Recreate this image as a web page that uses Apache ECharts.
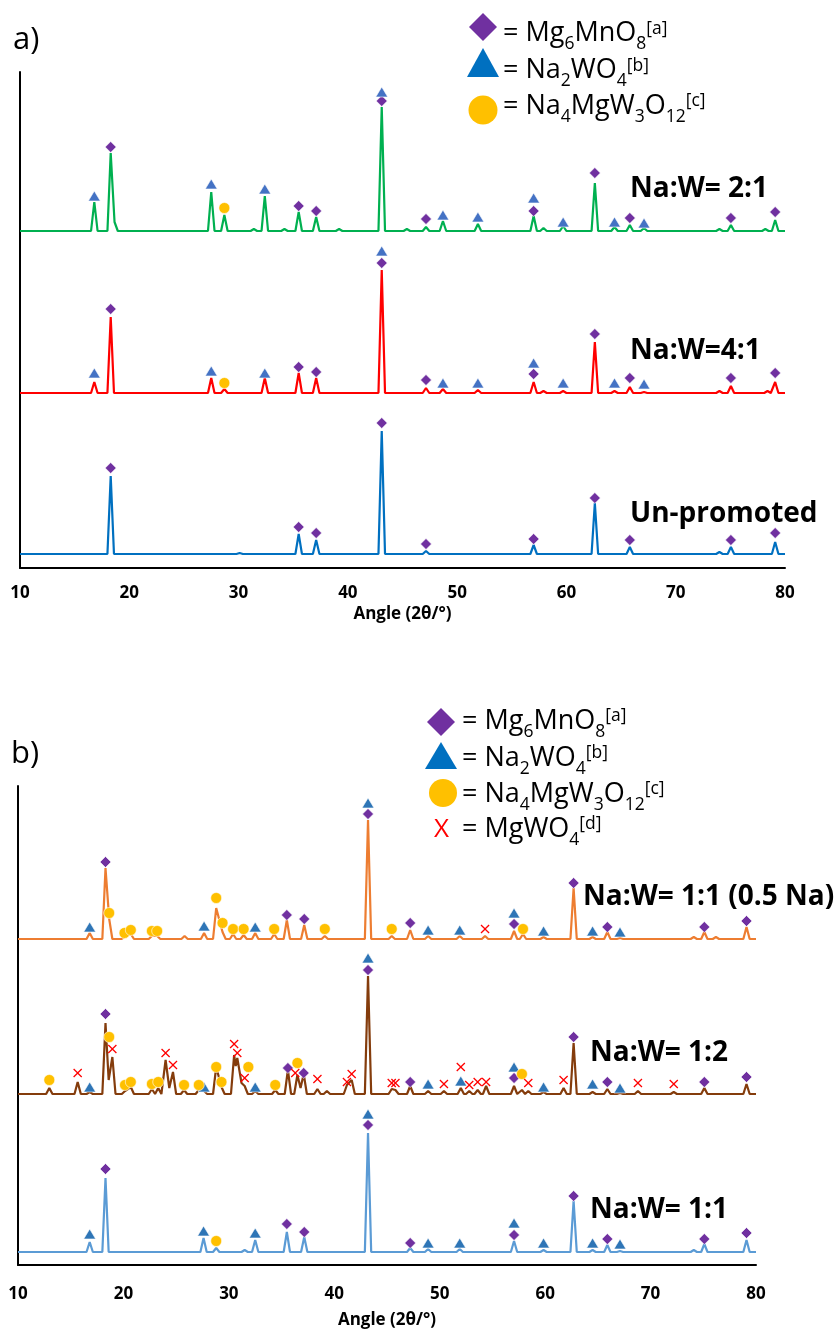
<!DOCTYPE html>
<html>
<head>
<meta charset="utf-8">
<script src="https://cdn.jsdelivr.net/npm/echarts@6/dist/echarts.min.js"></script>
<style>
  html, body { margin: 0; padding: 0; background: #fff; }
  #chart { width: 836px; height: 1332px; }
</style>
</head>
<body>
<div id="chart"></div>
<script>
// ---- XRD patterns: peak lists as [2θ (°), intensity above the pattern's own baseline] ----
const angleTicks = [10, 20, 30, 40, 50, 60, 70, 80];

// Panel a
const peaksNaW21 = [[16.8,29],[18.3,78],[18.65,9],[27.5,39],[28.7,16],[31.4,2],[32.4,35],[34.2,2],[35.5,19],[37.1,14],[39.2,2],[43.1,124],[45.4,2],[47.15,4],[48.7,10],[51.9,7],[57.0,15],[57.9,3],[59.7,5],[62.6,48],[64.4,4],[65.8,6],[67.1,3],[74.0,2],[75.05,6],[78.2,2],[79.1,11]];
const peaksNaW41 = [[16.8,11],[18.3,76],[27.5,15],[28.7,4],[32.4,15],[35.5,20],[37.1,15],[43.1,123],[47.15,5],[48.7,4],[51.9,3],[57.0,11],[57.9,2],[59.7,2],[62.6,51],[64.4,2],[65.8,6],[67.1,1],[74.0,2],[75.05,7],[78.4,2],[79.1,11]];
const peaksUnpromoted = [[18.3,78],[30.1,1],[35.5,20],[37.1,14],[43.1,123],[47.15,3],[57.0,9],[62.6,51],[65.8,7],[74.0,2],[75.05,7],[79.1,12]];

// Panel b
const peaksNaW11half = [[16.8,6],[18.3,71],[18.65,20],[20.1,2],[20.7,5],[22.7,3],[23.2,3],[25.8,3],[27.65,6],[28.8,31],[29.4,7],[30.4,5],[31.4,4],[32.5,6],[34.3,5],[35.5,19],[37.15,14],[39.1,3],[43.2,119],[45.45,3],[47.2,9],[48.9,3],[51.9,3],[54.3,3],[57.05,8],[57.9,5],[59.85,2],[62.7,51],[64.5,2],[65.9,7],[67.1,1],[74.1,2],[75.1,7],[76.2,2],[79.1,12]];
const peaksNaW12 = [[12.97,6],[15.66,12],[16.8,2],[18.3,71],[18.6,14],[18.95,37],[20.15,3],[20.7,7],[22.7,5],[23.3,6],[24.0,34],[24.35,6],[24.7,22],[25.75,4],[27.15,4],[27.65,3],[28.8,27],[29.3,7],[30.5,39],[30.65,28],[30.8,36],[31.2,11],[31.5,8],[32.5,3],[34.4,4],[35.6,24],[36.5,19],[36.8,6],[37.1,20],[38.4,5],[39.3,3],[41.2,9],[41.65,14],[43.2,118],[45.45,5],[45.8,4],[47.2,8],[48.9,3],[50.4,3],[52.0,6],[52.8,3],[53.6,4],[54.4,8],[57.05,8],[57.8,4],[58.4,3],[59.85,2],[61.75,6],[62.7,51],[64.5,2],[65.9,5],[67.1,1],[68.8,3],[72.2,2],[75.1,6],[79.1,10]];
const peaksNaW11 = [[16.8,10],[18.3,74],[27.6,14],[28.8,4],[31.5,2],[32.5,12],[35.5,20],[37.15,15],[43.2,119],[47.2,4],[48.9,3],[51.9,3],[57.05,11],[59.85,2],[62.7,51],[64.5,2],[65.9,7],[67.1,1],[74.1,2],[75.1,8],[79.1,12]];

// Vertical offsets used to stack the patterns (intensity units)
const offsetsA = { naw21: 337, naw41: 175, unpromoted: 14 };
const offsetsB = { naw11half: 326, naw12: 171, naw11: 13 };

// ---- Phase markers: [2θ, height above the pattern's baseline] ----
// Mg6MnO8 (diamond), Na2WO4 (triangle), Na4MgW3O12 (circle), MgWO4 (cross)
const mgmnoNaW21 = [[18.3,84],[35.5,25],[37.1,20],[43.1,130],[47.15,12],[57.0,20],[62.6,58],[65.8,13],[75.05,13],[79.1,19]];
const nawoNaW21 = [[16.8,35],[27.5,47],[32.4,42],[43.1,139],[48.7,16],[51.9,14],[57.0,33],[59.7,9],[64.4,9],[67.1,8]];
const namgwoNaW21 = [[28.7,23]];

const mgmnoNaW41 = [[18.3,84],[35.5,26],[37.1,21],[43.1,130],[47.15,13],[57.0,19],[62.6,59],[65.8,15],[75.05,15],[79.1,20]];
const nawoNaW41 = [[16.8,20],[27.5,22],[32.4,20],[43.1,142],[48.7,10],[51.9,10],[57.0,30],[59.7,10],[64.4,10],[67.1,9]];
const namgwoNaW41 = [[28.7,10]];

const mgmnoUnpromoted = [[18.3,86],[35.5,27],[37.1,21],[43.1,131],[47.15,10],[57.0,15],[62.6,56],[65.8,14],[75.05,14],[79.1,21]];

const mgmnoNaW11half = [[18.3,77],[35.5,24],[37.15,20],[43.2,125],[47.2,16],[57.05,15],[62.7,56],[65.9,12],[75.1,12],[79.1,18]];
const nawoNaW11half = [[16.8,12],[27.65,13],[32.5,12],[43.2,136],[48.9,9],[51.9,9],[57.05,26],[59.85,8],[64.5,8],[67.1,7]];
const namgwoNaW11half = [[18.65,26],[20.1,6],[20.7,9],[22.7,8],[23.2,8],[28.8,41],[29.4,16],[30.4,10],[31.4,10],[34.3,10],[39.1,10],[45.45,10],[57.9,10]];
const mgwoNaW11half = [[54.3,10]];

const mgmnoNaW12 = [[18.3,80],[35.6,26],[37.1,21],[43.2,124],[47.2,12],[57.05,16],[62.7,57],[65.9,12],[75.1,12],[79.1,17]];
const nawoNaW12 = [[16.8,7],[27.65,7],[32.5,7],[43.2,136],[48.9,10],[52.0,13],[57.05,27],[59.85,7],[64.5,10],[67.1,6]];
const namgwoNaW12 = [[12.97,14],[18.65,57],[20.15,9],[20.7,12],[22.7,10],[23.3,12],[25.75,9],[27.15,9],[28.8,27],[29.3,12],[31.85,27],[34.4,9],[36.5,31],[57.8,20]];
const mgwoNaW12 = [[15.66,21],[18.95,45],[24.0,41],[24.7,29],[30.5,50],[30.8,41],[31.5,16],[36.3,21],[38.4,15],[41.2,12],[41.65,20],[45.45,11],[45.8,11],[50.4,10],[52.0,27],[52.8,9],[53.6,12],[54.4,12],[58.4,11],[61.75,14],[68.8,11],[72.2,10]];

const mgmnoNaW11 = [[18.3,83],[35.5,28],[37.15,20],[43.2,127],[47.2,9],[57.05,17],[62.7,56],[65.9,13],[75.1,13],[79.1,19]];
const nawoNaW11 = [[16.8,18],[27.6,21],[32.5,19],[43.2,138],[48.9,9],[51.9,9],[57.05,29],[59.85,9],[64.5,9],[67.1,8]];
const namgwoNaW11 = [[28.8,11]];

// ---- helpers ----
const HALF_BASE = 0.3;   // half width of a peak foot, in degrees 2θ
function trace(peaks, base) {
  const pts = [[10, base]];
  let prev = null;
  peaks.forEach(([a, h]) => {
    if (prev === null || a - prev > 2 * HALF_BASE) {
      if (prev !== null) pts.push([prev + HALF_BASE, base]);
      pts.push([a - HALF_BASE, base]);
    }
    pts.push([a, base + h]);
    prev = a;
  });
  pts.push([prev + HALF_BASE, base], [80, base]);
  return pts;
}
const lift = (marks, base) => marks.map(([a, h]) => [a, base + h]);

const FAMILY = '"Open Sans", Lato, sans-serif';
const C = {
  diamond: '#7030A0', triA: '#4472C4', triB: '#2E75B6', triLegend: '#0070C0',
  circle: '#FFC000', cross: '#FF0000'
};
const CROSS = 'path://M0,1L1,0L5,4L9,0L10,1L6,5L10,9L9,10L5,6L1,10L0,9L4,5Z';

function lineSeries(name, idx, data, color) {
  return {
    name, type: 'line', xAxisIndex: idx, yAxisIndex: idx, data,
    symbol: 'none', smooth: false, z: 2,
    lineStyle: { color, width: 2.2 }, silent: true
  };
}
function markSeries(idx, data, symbol, size, color) {
  return {
    type: 'scatter', xAxisIndex: idx, yAxisIndex: idx, data,
    symbol, symbolSize: size, z: 5, silent: true,
    itemStyle: { color, borderColor: '#ffffff', borderWidth: symbol === CROSS ? 0 : 0.6, opacity: 1 }
  };
}

const series = [
  lineSeries('Na:W= 2:1', 0, trace(peaksNaW21, offsetsA.naw21), '#00B050'),
  lineSeries('Na:W=4:1', 0, trace(peaksNaW41, offsetsA.naw41), '#FF0000'),
  lineSeries('Un-promoted', 0, trace(peaksUnpromoted, offsetsA.unpromoted), '#0070C0'),
  lineSeries('Na:W= 1:1 (0.5 Na)', 1, trace(peaksNaW11half, offsetsB.naw11half), '#ED7D31'),
  lineSeries('Na:W= 1:2', 1, trace(peaksNaW12, offsetsB.naw12), '#843C0C'),
  lineSeries('Na:W= 1:1', 1, trace(peaksNaW11, offsetsB.naw11), '#5B9BD5'),

  markSeries(0, lift(mgmnoNaW21, offsetsA.naw21), 'diamond', [11, 11], C.diamond),
  markSeries(0, lift(nawoNaW21, offsetsA.naw21), 'triangle', [12, 10], C.triA),
  markSeries(0, lift(namgwoNaW21, offsetsA.naw21), 'circle', 11, C.circle),
  markSeries(0, lift(mgmnoNaW41, offsetsA.naw41), 'diamond', [11, 11], C.diamond),
  markSeries(0, lift(nawoNaW41, offsetsA.naw41), 'triangle', [12, 10], C.triA),
  markSeries(0, lift(namgwoNaW41, offsetsA.naw41), 'circle', 11, C.circle),
  markSeries(0, lift(mgmnoUnpromoted, offsetsA.unpromoted), 'diamond', [11, 11], C.diamond),

  markSeries(1, lift(mgmnoNaW11half, offsetsB.naw11half), 'diamond', [11, 11], C.diamond),
  markSeries(1, lift(nawoNaW11half, offsetsB.naw11half), 'triangle', [12, 10], C.triB),
  markSeries(1, lift(namgwoNaW11half, offsetsB.naw11half), 'circle', 11, C.circle),
  markSeries(1, lift(mgwoNaW11half, offsetsB.naw11half), CROSS, 9, C.cross),
  markSeries(1, lift(mgmnoNaW12, offsetsB.naw12), 'diamond', [11, 11], C.diamond),
  markSeries(1, lift(nawoNaW12, offsetsB.naw12), 'triangle', [12, 10], C.triB),
  markSeries(1, lift(namgwoNaW12, offsetsB.naw12), 'circle', 11, C.circle),
  markSeries(1, lift(mgwoNaW12, offsetsB.naw12), CROSS, 9, C.cross),
  markSeries(1, lift(mgmnoNaW11, offsetsB.naw11), 'diamond', [11, 11], C.diamond),
  markSeries(1, lift(nawoNaW11, offsetsB.naw11), 'triangle', [12, 10], C.triB),
  markSeries(1, lift(namgwoNaW11, offsetsB.naw11), 'circle', 11, C.circle)
];

function xAxis(idx, margin, nameGap) {
  return {
    type: 'value', gridIndex: idx, min: angleTicks[0], max: angleTicks[angleTicks.length - 1], interval: 10,
    name: 'Angle (2θ/°)', nameLocation: 'middle', nameGap,
    nameTextStyle: { fontFamily: FAMILY, fontWeight: 'bold', fontSize: 17, color: '#000' },
    axisLine: { show: true, lineStyle: { color: '#000', width: 2 } },
    axisTick: { show: false }, splitLine: { show: false },
    axisLabel: { fontFamily: FAMILY, fontWeight: 'bold', fontSize: 17, color: '#000', margin,
      formatter: v => angleTicks.includes(v) ? String(v) : '' }
  };
}
function yAxis(idx, max) {
  return {
    type: 'value', gridIndex: idx, min: 0, max,
    axisLine: { show: true, lineStyle: { color: '#000', width: 2 } },
    axisTick: { show: false }, axisLabel: { show: false }, splitLine: { show: false }
  };
}

// ---- legend text: chemical formulae laid out piece by piece ----
const measureCtx = document.createElement('canvas').getContext('2d');
const PIECE = {
  m:   { size: 27,   dy: 0,    fill: '#000' },
  sub: { size: 17.5, dy: 11,   fill: '#000' },
  sup: { size: 17.5, dy: -4.5, fill: '#000' },
  x:   { size: 26,   dy: 0,    fill: '#FF0000' }
};
function formula(x, y, pieces) {
  const els = [];
  let cx = x;
  pieces.forEach(([text, kind]) => {
    const p = PIECE[kind];
    measureCtx.font = `normal ${p.size}px ${FAMILY}`;
    els.push({ type: 'text', x: cx, y: y + p.dy, silent: true,
      style: { text, fontFamily: FAMILY, fontSize: p.size, fill: p.fill,
        textVerticalAlign: 'middle', verticalAlign: 'middle', textAlign: 'left', align: 'left' } });
    cx += measureCtx.measureText(text).width;
  });
  return els;
}
const F_MGMNO = [['= Mg', 'm'], ['6', 'sub'], ['MnO', 'm'], ['8', 'sub'], ['[a]', 'sup']];
const F_NAWO = [['= Na', 'm'], ['2', 'sub'], ['WO', 'm'], ['4', 'sub'], ['[b]', 'sup']];
const F_NAMGWO = [['= Na', 'm'], ['4', 'sub'], ['MgW', 'm'], ['3', 'sub'], ['O', 'm'], ['12', 'sub'], ['[c]', 'sup']];
const F_MGWO = [['= MgWO', 'm'], ['4', 'sub'], ['[d]', 'sup']];

function diamondShape(cx, cy, r, color) {
  return { type: 'polygon', silent: true, shape: { points: [[cx, cy - r], [cx + r, cy], [cx, cy + r], [cx - r, cy]] }, style: { fill: color } };
}
function triangleShape(cx, top, w, h, color) {
  return { type: 'polygon', silent: true, shape: { points: [[cx, top], [cx + w / 2, top + h], [cx - w / 2, top + h]] }, style: { fill: color } };
}
function circleShape(cx, cy, r, color) {
  return { type: 'circle', silent: true, shape: { cx, cy, r }, style: { fill: color } };
}
function sampleLabel(x, y, text) {
  return { type: 'text', x, y, silent: true,
    style: { text, fontFamily: FAMILY, fontWeight: 'bold', fontSize: 28, fill: '#000',
      textVerticalAlign: 'middle', verticalAlign: 'middle' } };
}
function panelTag(x, y, text) {
  return { type: 'text', x, y, silent: true,
    style: { text, fontFamily: FAMILY, fontSize: 31, fill: '#000', textVerticalAlign: 'middle', verticalAlign: 'middle' } };
}

const graphic = [
  panelTag(13, 40, 'a)'),
  panelTag(11, 754, 'b)'),

  diamondShape(483, 27, 14, C.diamond),
  triangleShape(483, 48, 32, 29, C.triLegend),
  circleShape(483, 110, 14.5, C.circle),
  ...formula(503, 33.5, F_MGMNO),
  ...formula(503, 70.5, F_NAWO),
  ...formula(503, 106, F_NAMGWO),

  diamondShape(441, 722, 14, C.diamond),
  triangleShape(441, 742, 32, 27, C.triLegend),
  circleShape(443, 793, 14, C.circle),
  ...formula(434, 830, [['X', 'x']]),
  ...formula(462, 721, F_MGMNO),
  ...formula(462, 758, F_NAWO),
  ...formula(462, 794, F_NAMGWO),
  ...formula(462, 829, F_MGWO),

  sampleLabel(630, 189, 'Na:W= 2:1'),
  sampleLabel(630, 351, 'Na:W=4:1'),
  sampleLabel(630, 514, 'Un-promoted'),
  sampleLabel(583, 897, 'Na:W= 1:1 (0.5 Na)'),
  sampleLabel(590, 1053, 'Na:W= 1:2'),
  sampleLabel(590, 1210, 'Na:W= 1:1')
];

const chart = echarts.init(document.getElementById('chart'), null, { renderer: 'canvas' });
chart.setOption({
  animation: false,
  backgroundColor: '#ffffff',
  grid: [
    { left: 20, top: 72, width: 765, height: 496, containLabel: false, outerBoundsMode: 'none' },
    { left: 18, top: 786, width: 738, height: 479, containLabel: false, outerBoundsMode: 'none' }
  ],
  xAxis: [xAxis(0, 17, 38), xAxis(1, 21, 47)],
  yAxis: [yAxis(0, 496), yAxis(1, 479)],
  series,
  graphic
});
</script>
</body>
</html>
